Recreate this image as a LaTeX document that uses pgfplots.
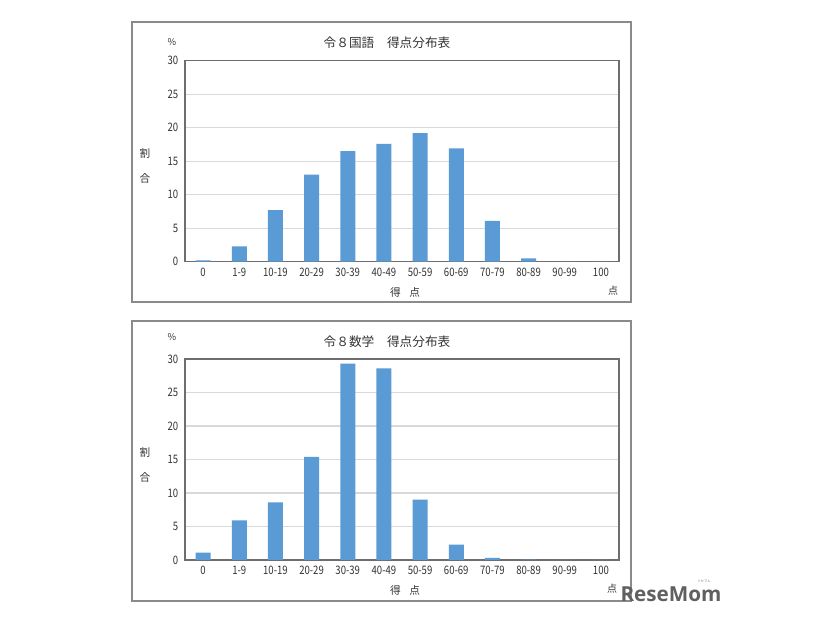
\documentclass[border=0pt]{standalone}
\usepackage{pgfplots}
\pgfplotsset{compat=1.18}
\usepackage{fontspec}
\setmainfont{Noto Sans CJK JP}
\newfontfamily\tickfont{Noto Sans CJK JP}[FakeStretch=0.82]
\newfontfamily\logofont{Open Sans}
\definecolor{barblue}{HTML}{5B9BD5}
\definecolor{gridgray}{HTML}{D9D9D9}
\definecolor{framegray}{HTML}{8A8A8A}
\definecolor{axisgray}{HTML}{6E6E6E}
\definecolor{txt}{HTML}{333333}

\pgfplotstableread{
x y
0 0.2
1 2.3
2 7.7
3 13.0
4 16.5
5 17.6
6 19.2
7 16.9
8 6.1
9 0.5
10 0
11 0
}\kokugo

\pgfplotstableread{
x y
0 1.1
1 5.9
2 8.6
3 15.4
4 29.3
5 28.6
6 9.0
7 2.3
8 0.3
9 0.05
10 0
11 0
}\sugaku

\pgfplotsset{
 mystyle/.style={
  scale only axis, width=325.5pt, height=150.75pt,
  xmin=-0.5, xmax=11.5, ymin=0, ymax=30, enlargelimits=false,
  ytick={0,5,...,30}, xtick={0,...,11},
  xticklabels={0,1-9,10-19,20-29,30-39,40-49,50-59,60-69,70-79,80-89,90-99,100},
  major tick length=0pt,
  ymajorgrids, grid style={gridgray, line width=0.9pt},
  axis line style={axisgray, line width=0.9pt},
  tick label style={font=\tickfont\fontsize{8.75pt}{9pt}\selectfont, text=txt},
  /pgf/number format/assume math mode=true,
  yticklabel style={xshift=-1.5pt},
  xticklabel style={yshift=-1.2pt},
  ybar, bar width=11.25pt,
 }}

\begin{document}
\begin{tikzpicture}[x=0.75pt,y=0.75pt]
\fill[white] (0,0) rectangle (826,620);
\path[use as bounding box] (0,0) rectangle (826,620);
\coordinate (A1) at (185,358.3);
\coordinate (A2) at (185,60);
% frames
\draw[framegray, line width=1.1pt] (132,598) rectangle (631,318);
\draw[framegray, line width=1.1pt] (132,299) rectangle (631,19);

\begin{axis}[mystyle, at={(A1)}, anchor=south west]
\addplot[fill=barblue, draw=none] table[x=x,y=y] {\kokugo};
\end{axis}
\begin{axis}[mystyle, at={(A2)}, anchor=south west]
\addplot[fill=barblue, draw=none] table[x=x,y=y] {\sugaku};
\end{axis}

% texts top
\begin{scope}[every node/.style={text=txt, inner sep=0pt}]
\node[font=\fontsize{9.5pt}{11pt}\selectfont] at (387,577) {令８国語　得点分布表};
\node[font=\fontsize{7pt}{8pt}\selectfont] at (172,578) {\%};
\node[font=\fontsize{8pt}{9pt}\selectfont] at (145,467) {割};
\node[font=\fontsize{8pt}{9pt}\selectfont] at (145,442) {合};
\node[font=\fontsize{8pt}{9pt}\selectfont] at (405,328) {得\hspace{0.8em}点};
\node[font=\fontsize{7.5pt}{9pt}\selectfont] at (613,329) {点};
% texts bottom
\node[font=\fontsize{9.5pt}{11pt}\selectfont] at (387,278) {令８数学　得点分布表};
\node[font=\fontsize{7pt}{8pt}\selectfont] at (172,283) {\%};
\node[font=\fontsize{8pt}{9pt}\selectfont] at (145,168) {割};
\node[font=\fontsize{8pt}{9pt}\selectfont] at (145,143) {合};
\node[font=\fontsize{8pt}{9pt}\selectfont] at (405,30) {得\hspace{0.8em}点};
\node[font=\fontsize{7.5pt}{9pt}\selectfont] at (612,31) {点};
\end{scope}
% logo
\node[inner sep=0pt, text=gray!75!black, font=\logofont\bfseries\fontsize{15.5pt}{17pt}\selectfont] at (671,26) {ReseMom};
\node[inner sep=0pt, text=gray, font=\fontsize{2.5pt}{3pt}\selectfont] at (704,39) {リセマム};
\end{tikzpicture}
\end{document}
